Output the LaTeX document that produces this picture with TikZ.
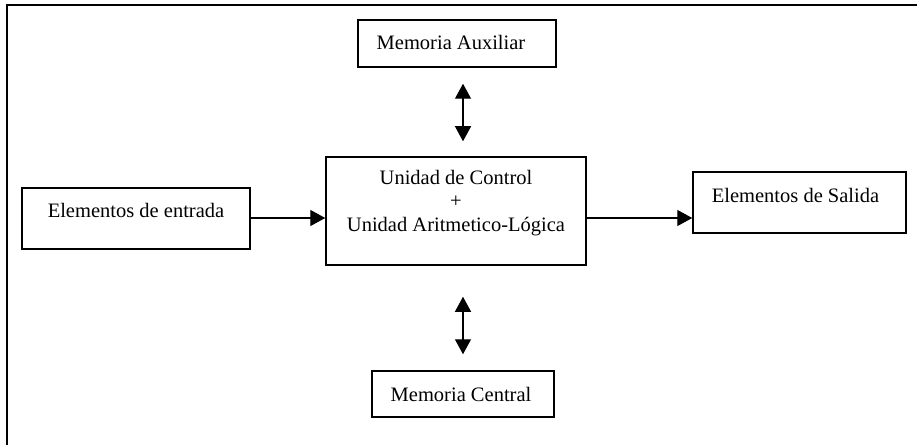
\documentclass[tikz,border=0pt]{standalone}
\usepackage{fontspec}
\setmainfont{Liberation Serif}
\usetikzlibrary{arrows.meta,calc}

\tikzset{
  x=1pt, y=1pt,
  unit/.style={draw, line width=1.5pt, rectangle, inner sep=0pt},
  lbl/.style={font=\fontsize{20.5}{23.5}\selectfont, align=center, inner sep=0pt},
  flow/.style={line width=1.3pt, -{Triangle[length=15pt,width=16pt]}},
  both/.style={line width=1.3pt, {Triangle[length=15pt,width=16pt]}-{Triangle[length=15pt,width=16pt]}},
  frame/.style={line width=1.8pt}
}

\begin{document}
\begin{tikzpicture}
  \useasboundingbox (0,0) rectangle (917,445);

  % open frame: top and left edges only
  \coordinate (ftl) at (7,440);
  \coordinate (ftr) at (917,440);
  \coordinate (fbl) at (7,0);
  \draw[frame] (ftr) -- (ftl) -- (fbl);

  % boxes
  \node[unit, minimum width=198pt, minimum height=47pt] (aux) at (457,401.5) {};
  \node[unit, minimum width=260pt, minimum height=108pt] (cpu) at (456,234) {};
  \node[unit, minimum width=228pt, minimum height=61pt] (in) at (136,226.5) {};
  \node[unit, minimum width=213pt, minimum height=61pt] (out) at (799.5,242.5) {};
  \node[unit, minimum width=182pt, minimum height=46pt] (mem) at (463,51) {};

  % box texts
  \node[lbl] (auxt) at ([xshift=-6pt,yshift=1pt]aux.center) {Memoria Auxiliar};
  \node[lbl] (cput) at ([yshift=8pt]cpu.center) {Unidad de Control\\+\\Unidad Aritmetico-Lógica};
  \node[lbl] (int) at ([yshift=8pt]in.center) {Elementos de entrada};
  \node[lbl] (outt) at ([xshift=-4pt,yshift=7pt]out.center) {Elementos de Salida};
  \node[lbl] (memt) at ([xshift=-2pt]mem.center) {Memoria Central};

  % connectors
  \coordinate (axis) at (463,0);
  \coordinate (row) at (0,227);
  \draw[flow] (in.east |- row) -- (cpu.west |- row);
  \draw[flow] (cpu.east |- row) -- (out.west |- row);
  \draw[both, shorten <=16pt, shorten >=15pt] (aux.south -| axis) -- (cpu.north -| axis);
  \draw[both, shorten <=31pt, shorten >=16pt] (cpu.south -| axis) -- (mem.north -| axis);
\end{tikzpicture}
\end{document}
